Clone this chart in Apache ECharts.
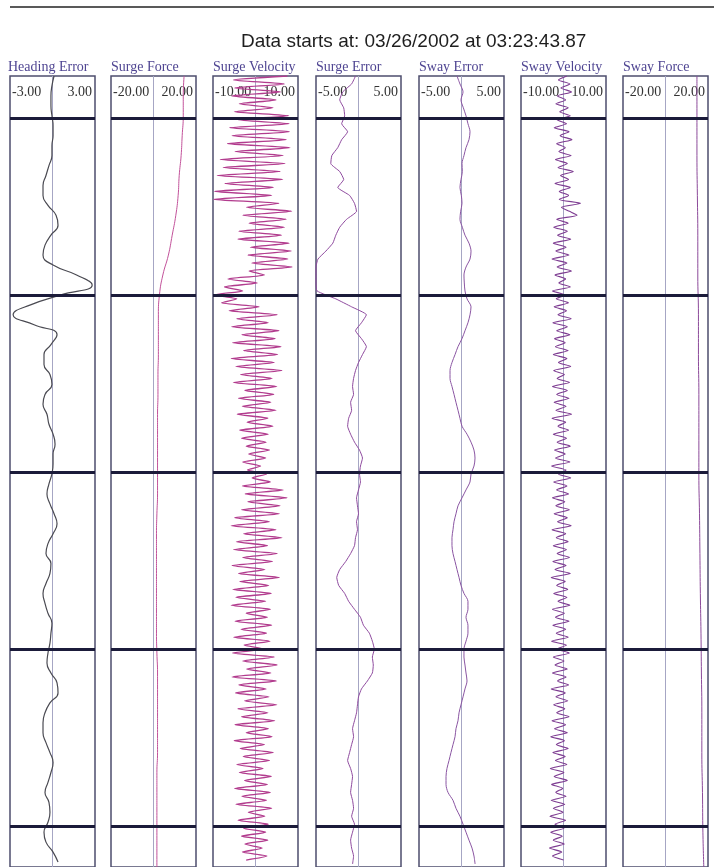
<!DOCTYPE html>
<html><head><meta charset="utf-8">
<script src="https://cdn.jsdelivr.net/npm/echarts@6/dist/echarts.min.js"></script>
<style>html,body{margin:0;padding:0;background:#fff}#c{width:714px;height:867px}</style>
</head><body><div id="c"></div>
<script>
// ---------- data ----------
const MAIN_TITLE = 'Data starts at: 03/26/2002 at 03:23:43.87';
const CHANNELS = ['Heading Error','Surge Force','Surge Velocity','Surge Error','Sway Error','Sway Velocity','Sway Force'];
const RANGE_MIN = [-3,-20,-10,-5,-5,-10,-20];
const RANGE_MAX = [3,20,10,5,5,10,20];
const SAMPLE_STEP = [10,20,4,8,8,4,40];   // time units between samples
const TIME_END = 795;
const TIME_MARKS = [42,220,398,576,754];

const HEADING_ERROR = [
  0.11,-0.04,-0.11,-0.11,-0.04,0.04,0.04,-0.04,-0.04,-0.25,
  -0.46,-0.67,-0.67,-0.32,0.25,0.39,-0.11,-0.53,-0.67,0.04,
  1.7,2.8,0.6,-1.55,-2.78,-1.3,0.32,-0.11,-0.6,-0.6,
  -0.18,-0.04,-0.53,-0.67,-0.39,-0.25,0.04,0.18,0.04,0.04,
  -0.04,-0.25,-0.39,-0.18,0.11,0.32,0.04,-0.32,-0.46,-0.11,
  -0.18,-0.46,-0.67,-0.53,-0.32,-0.04,-0.11,-0.18,-0.32,-0.39,
  -0.11,0.32,0.39,-0.18,-0.53,-0.67,-0.67,-0.46,-0.18,0.04,
  -0.11,-0.32,-0.53,-0.25,-0.18,-0.32,-0.6,-0.46,0.04,0.39
];
const SURGE_FORCE = [
  14.4,14.0,14.0,13.5,13.0,12.1,11.6,10.5,8.8,7.0,
  4.4,2.8,2.3,2.3,2.3,2.1,2.1,1.9,1.9,1.9,
  1.9,1.9,1.6,1.4,1.4,1.4,1.4,1.4,1.4,1.6,
  1.9,1.9,1.9,1.9,1.9,1.6,1.6,1.6,1.6,1.6,1.6
];
const SURGE_VELOCITY = [
  7.5,-5.2,6.8,-4.9,5.9,-5.6,4.8,-3.8,4.1,-5.0,
  7.8,-4.2,7.9,-6.1,8.0,-5.5,7.2,-6.6,8.1,-4.8,
  6.5,-8.3,7.0,-7.6,5.8,-9.0,6.4,-7.2,4.2,-9.6,
  3.8,-9.8,5.5,-2.1,8.5,-3.0,7.2,-1.5,6.8,-3.9,
  6.1,-4.1,7.9,-1.2,8.4,-1.8,7.6,-0.9,8.6,-1.5,
  2.1,-6.5,0.4,-7.3,-3.0,-9.6,-4.4,-8.0,0.9,-6.2,
  5.1,-4.4,3.0,-5.6,5.5,-3.2,4.6,-5.4,6.0,-2.8,
  5.2,-5.7,4.4,-4.6,6.2,-3.5,3.9,-5.2,5.0,-2.5,
  4.3,-4.0,3.6,-3.1,4.8,-4.3,2.9,-2.0,4.1,-3.7,
  3.0,-3.3,2.5,-2.2,3.3,-1.6,2.4,-3.0,1.2,-1.9,
  2.6,-0.8,3.5,-3.1,6.5,-2.4,7.4,-1.8,5.8,-3.3,
  5.6,-4.9,3.3,-5.7,4.8,-2.8,6.2,-4.5,2.8,-5.2,
  5.1,-3.0,4.0,-5.5,2.2,-4.0,5.6,-3.7,3.1,-5.3,
  3.7,-4.6,2.4,-5.7,3.5,-2.2,2.8,-4.8,3.8,-3.4,
  2.6,-5.1,3.4,-2.7,1.9,-5.4,4.4,-3.0,5.1,-2.1,
  3.6,-5.5,4.9,-3.9,2.5,-4.7,3.2,-2.6,5.0,-4.2,
  2.9,-3.3,4.5,-4.8,3.0,-2.2,3.9,-5.0,2.1,-3.6,
  4.2,-2.9,3.3,-4.4,1.8,-3.8,3.7,-2.6,2.8,-4.9,
  3.5,-3.2,2.6,-4.6,3.8,-1.7,2.2,-4.1,3.0,-2.8,
  2.4,-3.3,2.9,-2.5,1.6,-3.1,2.7,-2.2
];
const SURGE_ERROR = [
  -0.35,-0.81,-1.86,-2.21,-1.74,-1.63,-1.98,-1.28,-1.98,-2.44,
  -3.14,-3.26,-2.21,-1.74,-2.44,-1.05,-0.47,-0.23,-1.4,-2.21,
  -2.67,-3.02,-3.84,-4.77,-5.0,-5.0,-5.0,-4.88,-2.67,-0.81,
  0.93,0.35,-0.35,0.35,0.93,0.47,0.0,-0.35,-0.58,-0.7,
  -0.58,-0.93,-0.81,-1.16,-1.28,-0.93,-0.47,0.12,0.47,0.23,
  0.12,0.23,0.0,-0.23,-0.12,0.0,-0.23,-0.12,-0.35,-0.47,
  -0.93,-1.51,-2.21,-2.56,-2.33,-1.63,-1.16,-0.47,0.23,0.58,
  1.28,1.63,1.86,1.63,1.74,1.63,1.05,0.35,0.0,-0.12,
  -0.23,-0.47,-0.7,-0.58,-0.81,-1.05,-1.28,-0.93,-0.7,-0.81,
  -0.93,-0.7,-0.58,-0.81,-0.47,-0.7,-0.93,-0.81,-0.58,-0.7
];
const SWAY_ERROR = [
  -0.53,-0.18,0.18,-0.06,0.22,0.53,0.76,1.0,0.88,0.53,
  0.29,0.06,0.1,-0.06,-0.18,-0.02,0.06,-0.1,-0.18,0.1,
  0.41,0.88,1.12,1.0,0.53,0.29,0.33,0.41,0.65,1.12,
  1.0,0.76,0.41,0.06,-0.41,-0.76,-1.12,-1.35,-1.35,-1.12,
  -0.88,-0.65,-0.41,-0.18,0.06,0.65,1.12,1.47,1.59,1.47,
  1.12,1.0,0.53,0.06,-0.41,-0.65,-0.88,-1.0,-1.12,-1.12,
  -1.0,-0.76,-0.53,-0.29,-0.06,0.29,0.76,0.76,0.53,0.76,
  0.76,0.53,0.29,0.29,0.41,0.53,0.65,0.41,0.18,-0.06,
  -0.29,-0.41,-0.65,-0.76,-1.0,-1.24,-1.47,-1.71,-1.82,-1.82,
  -1.59,-1.0,-0.65,-0.18,0.18,0.53,0.88,1.24,1.47,1.6
];
const SWAY_VELOCITY = [
  0.8,-1.2,1.5,-0.6,1.9,-1.4,0.5,-1.8,1.1,-0.9,
  1.6,-1.5,0.7,-2.2,1.3,-0.8,2.0,-1.6,0.4,-1.1,
  1.8,-1.9,0.9,-1.3,2.3,-0.7,1.2,-2.0,1.6,-1.0,
  1.2,-1.0,4.0,-0.5,1.4,3.2,-1.6,1.1,-2.3,0.9,
  -1.4,1.7,-2.4,0.6,-1.8,1.3,-2.7,0.8,-1.5,1.9,
  -2.0,0.5,-1.1,1.6,-2.6,0.3,-1.7,1.2,-2.2,0.7,
  -1.3,1.8,-2.5,0.9,-1.6,1.5,-2.1,0.4,-1.9,1.1,
  -2.4,0.8,-1.2,1.7,-2.3,0.2,-1.5,1.4,-2.6,0.9,
  -1.6,1.3,-2.2,0.6,-1.8,1.9,-2.7,0.5,-1.3,1.2,
  -2.4,0.7,-1.5,1.6,-2.1,0.4,-1.9,1.5,-2.8,0.6,
  -1.2,1.7,-2.3,0.8,-1.6,1.2,-2.6,0.3,-1.8,1.4,
  -2.2,0.9,-1.4,1.8,-2.7,0.5,-1.7,1.1,-2.4,0.7,
  -1.5,1.4,-2.5,0.6,-2.0,1.6,-2.9,0.4,-1.6,1.0,
  -2.3,0.8,-1.3,1.5,-2.6,0.2,-1.9,1.3,-2.5,0.5,
  -1.7,1.1,-2.8,0.7,-1.5,1.4,-2.4,0.1,-2.0,0.9,
  -2.6,0.6,-1.4,1.2,-2.9,0.4,-1.8,1.0,-2.3,0.3,
  -1.6,1.3,-2.7,0.5,-2.1,0.9,-3.0,0.2,-1.7,1.1,
  -2.5,0.4,-1.9,0.8,-3.1,0.1,-2.2,0.9,-2.8,-0.2,
  -1.8,0.6,-2.9,0.3,-2.4,-0.1,-3.2,0.5,-2.0,0.1,
  -3.0,-0.3,-2.4,0.2,-3.3,-0.4,-2.6,0.0
];
const SWAY_FORCE = [
  14.8,14.8,14.8,15.0,15.2,15.2,15.5,15.5,15.7,15.7,
  15.7,16.0,16.2,16.4,16.7,16.9,17.1,17.1,17.4,17.6,18.1
];

// ---------- layout / style ----------
const SERIES_DATA = [HEADING_ERROR, SURGE_FORCE, SURGE_VELOCITY, SURGE_ERROR, SWAY_ERROR, SWAY_VELOCITY, SWAY_FORCE];
const GRID_LEFT = [10,111,213,316,419,521,623];
const GRID_WIDTH = 85;
const GRID_TOP = 76;
const LINE_COLOR = ['#4a4a52','#c2529a','#b23c8e','#8e4a9e','#8a55a2','#7e3d92','#8c4a9a'];
const LINE_WIDTH = [1.2,1,1.3,1,1,1.1,1];
const SMOOTH = [0.5,0.5,0.2,0.15,0.3,0.2,0.5];
const SERIF = '"Liberation Serif","Times New Roman",serif';

const chart = echarts.init(document.getElementById('c'), null, {renderer:'canvas'});

const titles = [{
  text: MAIN_TITLE, left: 241, top: 32, padding: 0,
  textStyle: {fontFamily:'"Liberation Sans",Arial,sans-serif', fontSize:19, fontWeight:'normal', color:'#1e1e1e'}
}].concat(CHANNELS.map((name,i)=>({
  text: name, left: GRID_LEFT[i] - (i===0?2:0), top: 60, padding: 0,
  textStyle: {fontFamily:SERIF, fontSize:14, fontWeight:'normal', color:'#4f4592'}
})));

const option = {
  animation: false,
  backgroundColor: '#ffffff',
  title: titles,
  graphic: [{
    type:'line', shape:{x1:10, y1:7, x2:714, y2:7},
    style:{stroke:'#222', lineWidth:1.5}, silent:true
  }],
  grid: CHANNELS.map((_,i)=>({
    left: GRID_LEFT[i], width: GRID_WIDTH, top: GRID_TOP, bottom: -4,
    show: true, borderColor:'#4e4e6e', borderWidth:1.5, backgroundColor:'transparent'
  })),
  xAxis: CHANNELS.map((_,i)=>({
    gridIndex:i, type:'value', min:RANGE_MIN[i], max:RANGE_MAX[i],
    interval:(RANGE_MAX[i]-RANGE_MIN[i])/2, position:'top',
    axisLine:{show:false}, axisTick:{show:false},
    splitLine:{show:true, showMinLine:false, showMaxLine:false, lineStyle:{color:'#a6a6c4', width:1}},
    axisLabel:{
      inside:true, margin:9, color:'#333', fontFamily:SERIF, fontSize:14,
      alignMinLabel:'left', alignMaxLabel:'right',
      formatter: v => v===RANGE_MIN[i] ? '{l|' + v.toFixed(2) + '}'
                    : v===RANGE_MAX[i] ? '{r|' + v.toFixed(2) + '}' : '',
      rich:{
        l:{padding:[0,0,0,2], fontFamily:SERIF, fontSize:14, color:'#333'},
        r:{padding:[0,3,0,0], fontFamily:SERIF, fontSize:14, color:'#333'}
      }
    }
  })),
  yAxis: CHANNELS.map((_,i)=>({
    gridIndex:i, type:'value', min:0, max:TIME_END, inverse:true, show:false
  })),
  series: CHANNELS.map((name,i)=>({
    name, type:'line', xAxisIndex:i, yAxisIndex:i,
    data: SERIES_DATA[i].map((v,k)=>[v, k*SAMPLE_STEP[i]]),
    showSymbol:false, symbol:'none', smooth:SMOOTH[i], clip:true,
    lineStyle:{color:LINE_COLOR[i], width:LINE_WIDTH[i]},
    markLine:{
      silent:true, symbol:['none','none'], label:{show:false},
      lineStyle:{color:'#1b1b3a', width:3, type:'solid'},
      data: TIME_MARKS.map(t=>({yAxis:t}))
    }
  }))
};
chart.setOption(option);
</script>
</body></html>
